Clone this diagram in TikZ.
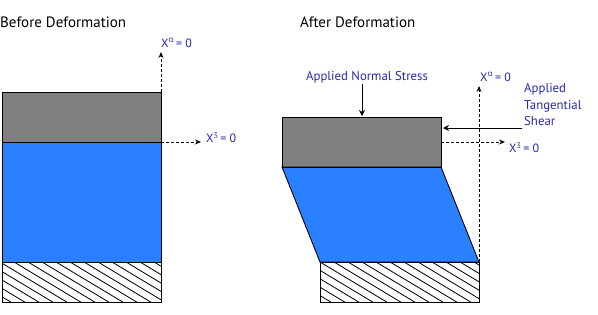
\documentclass[tikz,border=0pt]{standalone}
\usepackage{fontspec}
\setmainfont{PT Sans}
\newfontfamily\greekfont{Open Sans}
\usetikzlibrary{arrows.meta}
\definecolor{slab}{HTML}{808080}
\definecolor{layer}{HTML}{2A80FF}
\definecolor{lbl}{HTML}{2828AA}
\tikzset{
  block/.style={draw=black,line width=0.9pt},
  dotarrow/.style={densely dashed,line width=0.7pt,-{Stealth[length=6pt,width=5pt]}},
  forcearrow/.style={line width=0.8pt,-{Stealth[length=6pt,width=6pt]}},
  title/.style={font=\fontsize{15}{17}\selectfont,text=black,inner sep=0pt},
  axislbl/.style={font=\fontsize{12}{14}\selectfont,text=lbl,inner sep=0pt},
  forcelbl/.style={font=\fontsize{12.8}{16.5}\selectfont,text=lbl,inner sep=0pt,align=left}
}
\begin{document}
\begin{tikzpicture}[x=1pt,y=-1pt]
\useasboundingbox (0,0) rectangle (598,314);
% titles
\node[title,anchor=west] (t1) at (0,22) {Before Deformation};
\node[title,anchor=west] (t2) at (300,22) {After Deformation};
% ---------- Before ----------
\coordinate (ltr) at (161,92);
\coordinate (lmr) at (161,142);
\fill[slab] (2,92) rectangle (161,142);
\fill[layer] (2,142) rectangle (161,262);
\begin{scope}
\clip (2,262) rectangle (161,302);
\foreach \a in {-70,-56,...,170} {
  \draw[line width=0.8pt] (\a,262) -- ++(66.7,40);
}
\end{scope}
\draw[block] (2,92) rectangle (161,142);
\draw[block] (2,142) rectangle (161,262);
\draw[block] (2,262) rectangle (161,302);
\coordinate (la) at (161,52);
\coordinate (lb) at (201,142);
\draw[dotarrow] (ltr) -- (la);
\draw[dotarrow] (lmr) -- (lb);
\node[axislbl,anchor=west] (lxa) at (161,43) {X\textsuperscript{\greekfont α}\,= 0};
\node[axislbl,anchor=west] (lx3) at (206,138) {X\textsuperscript{3}\,= 0};
% ---------- After ----------
\coordinate (rmr) at (441,142);
\coordinate (rbr) at (479,262);
\fill[slab] (282,117) rectangle (441,167);
\fill[layer] (282,167) -- (441,167) -- (479,262) -- (320,262) -- cycle;
\begin{scope}
\clip (320,262) rectangle (479,302);
\foreach \a in {250,264,...,490} {
  \draw[line width=0.8pt] (\a,262) -- ++(66.7,40);
}
\end{scope}
\draw[block] (282,117) rectangle (441,167);
\draw[block] (282,167) -- (441,167) -- (479,262) -- (320,262) -- cycle;
\draw[block] (320,262) rectangle (479,302);
\coordinate (ra) at (479,86);
\coordinate (rb) at (505,142);
\draw[dotarrow] (rbr) -- (ra);
\draw[dotarrow] (rmr) -- (rb);
\node[axislbl,anchor=west] (rxa) at (480,77) {X\textsuperscript{\greekfont α}\,= 0};
\node[axislbl,anchor=west] (rx3) at (509,148) {X\textsuperscript{3}\,= 0};
% forces
\node[forcelbl] (ns) at (367,77) {Applied Normal Stress};
\coordinate (nsa) at (362,84);
\coordinate (nsb) at (362,116);
\draw[forcearrow] (nsa) -- (nsb);
\node[forcelbl,anchor=west] (ts) at (524,105) {Applied\\Tangential\\Shear};
\coordinate (tsa) at (522,128);
\coordinate (tsb) at (443,128);
\draw[forcearrow] (tsa) -- (tsb);
\end{tikzpicture}
\end{document}
